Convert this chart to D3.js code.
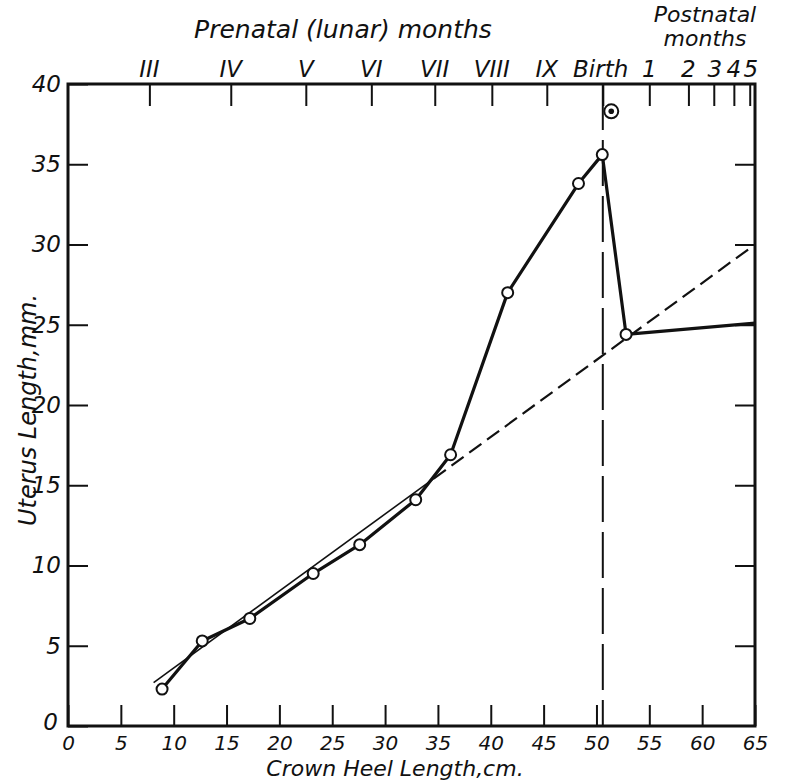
<!DOCTYPE html>
<html><head><meta charset="utf-8">
<script src="https://cdn.jsdelivr.net/npm/d3@7"></script>
<style>
body{margin:0;background:#fff}
text{font-family:"DejaVu Sans",sans-serif;font-style:italic;fill:#111}
</style>
</head><body><svg id="c" width="795" height="780"></svg>
<script>
// Data (crown-heel length in cm, uterus length in mm)
const crownHeel = [8.9, 12.7, 17.2, 23.2, 27.6, 32.9, 36.2, 41.6, 48.3, 50.55, 52.8];
const uterus    = [2.3, 5.3, 6.7, 9.5, 11.3, 14.1, 16.9, 27.0, 33.8, 35.6, 24.4];
const lineEndX = [65];
const lineEndY = [25.1];
const trendX = [8.1, 65];
const trendY = [2.7, 30.0];
const trendDashFrom = [34.6];
const extraX = [51.4];
const extraY = [38.3];
const birthX = [50.6];
const xTicks = [0,5,10,15,20,25,30,35,40,45,50,55,60,65];
const yTicks = [0,5,10,15,20,25,30,35,40];
const monthLabels = ["III","IV","V","VI","VII","VIII","IX","Birth","1","2","3","4","5"];
const monthPos    = [7.7, 15.4, 22.5, 28.7, 34.7, 40.1, 45.3, 50.6, 55.0, 58.7, 61.1, 63.0, 64.5];
const monthLabelPos = [7.7, 15.4, 22.5, 28.7, 34.7, 40.1, 45.3, 50.4, 55.0, 58.7, 61.2, 63.0, 64.6];

const svg = d3.select("#c");
const x = d3.scaleLinear().domain([0,65]).range([68,755]);
const y = d3.scaleLinear().domain([0,40]).range([726,84]);
const ink = "#111";

// bottom axis
const gx = svg.append("g").attr("transform",`translate(0,${y(0)})`)
  .call(d3.axisBottom(x).tickValues(xTicks).tickSizeInner(-21).tickSizeOuter(0).tickPadding(8));
gx.select(".domain").remove();
gx.selectAll(".tick line").attr("stroke",ink).attr("stroke-width",2);
gx.selectAll(".tick text").attr("font-size",20).attr("dy","0.78em").attr("fill",ink);

// left axis
const gy = svg.append("g").attr("transform",`translate(${x(0)},0)`)
  .call(d3.axisLeft(y).tickValues(yTicks).tickSizeInner(-20).tickSizeOuter(0).tickPadding(7));
gy.select(".domain").remove();
gy.selectAll(".tick line").attr("stroke",ink).attr("stroke-width",2);
gy.selectAll(".tick text").attr("font-size",23).attr("fill",ink);
gy.selectAll(".tick").filter(d=>d===0).select("text").attr("dy","0.15em").attr("x",-10);

// right axis ticks
const gr = svg.append("g").attr("transform",`translate(${x(65)},0)`)
  .call(d3.axisRight(y).tickValues(yTicks.filter(v=>v>0&&v<40)).tickSizeInner(-20).tickSizeOuter(0).tickFormat(""));
gr.select(".domain").remove();
gr.selectAll(".tick line").attr("stroke",ink).attr("stroke-width",2);

// top axis (months)
const gt = svg.append("g").attr("transform",`translate(0,${y(40)})`)
  .call(d3.axisTop(x).tickValues(monthPos).tickSizeInner(-22).tickSizeOuter(0).tickFormat(""));
gt.select(".domain").remove();
gt.selectAll(".tick line").attr("stroke",ink).attr("stroke-width",2);
svg.append("g").selectAll("text").data(monthLabels).join("text")
  .attr("x",(d,i)=>x(monthLabelPos[i])).attr("y",77)
  .attr("text-anchor","middle").attr("font-size",23).text(d=>d);

// frame
svg.append("rect").attr("x",x(0)).attr("y",y(40)).attr("width",x(65)-x(0)).attr("height",y(0)-y(40))
  .attr("fill","none").attr("stroke",ink).attr("stroke-width",3);

// birth vertical dashed line
svg.append("line").attr("x1",x(birthX[0])).attr("x2",x(birthX[0])).attr("y1",y(40)).attr("y2",y(0))
  .attr("stroke",ink).attr("stroke-width",2).attr("stroke-dasharray","46 10");

// trend line: solid then dashed
const tr = d3.scaleLinear().domain(trendX).range(trendY);
svg.append("line").attr("x1",x(trendX[0])).attr("y1",y(trendY[0]))
  .attr("x2",x(trendDashFrom[0])).attr("y2",y(tr(trendDashFrom[0])))
  .attr("stroke",ink).attr("stroke-width",1.6);
svg.append("line").attr("x1",x(trendDashFrom[0])).attr("y1",y(tr(trendDashFrom[0])))
  .attr("x2",x(trendX[1])).attr("y2",y(trendY[1]))
  .attr("stroke",ink).attr("stroke-width",2.2).attr("stroke-dasharray","15 7");

// main data line
const pts = crownHeel.map((v,i)=>[v,uterus[i]]).concat(lineEndX.map((v,i)=>[v,lineEndY[i]]));
svg.append("path").datum(pts)
  .attr("d",d3.line().x(d=>x(d[0])).y(d=>y(d[1])))
  .attr("fill","none").attr("stroke",ink).attr("stroke-width",3.2).attr("stroke-linejoin","round");

svg.append("g").selectAll("circle").data(crownHeel).join("circle")
  .attr("cx",d=>x(d)).attr("cy",(d,i)=>y(uterus[i])).attr("r",5.5)
  .attr("fill","#fff").attr("stroke",ink).attr("stroke-width",2);

// extra point (circled dot)
svg.append("circle").attr("cx",x(extraX[0])).attr("cy",y(extraY[0])).attr("r",7)
  .attr("fill","#fff").attr("stroke",ink).attr("stroke-width",2);
svg.append("circle").attr("cx",x(extraX[0])).attr("cy",y(extraY[0])).attr("r",2.8).attr("fill",ink);

// titles
svg.append("text").attr("x",343).attr("y",38).attr("text-anchor","middle").attr("font-size",25)
  .text("Prenatal (lunar) months");
svg.append("text").attr("x",705).attr("y",22).attr("text-anchor","middle").attr("font-size",22)
  .text("Postnatal");
svg.append("text").attr("x",705).attr("y",46).attr("text-anchor","middle").attr("font-size",22)
  .text("months");
svg.append("text").attr("x",395).attr("y",776).attr("text-anchor","middle").attr("font-size",22)
  .text("Crown Heel Length,cm.");
svg.append("text").attr("transform","translate(36,410) rotate(-90)").attr("text-anchor","middle").attr("font-size",24)
  .text("Uterus Length,mm.");
</script>
</body></html>
